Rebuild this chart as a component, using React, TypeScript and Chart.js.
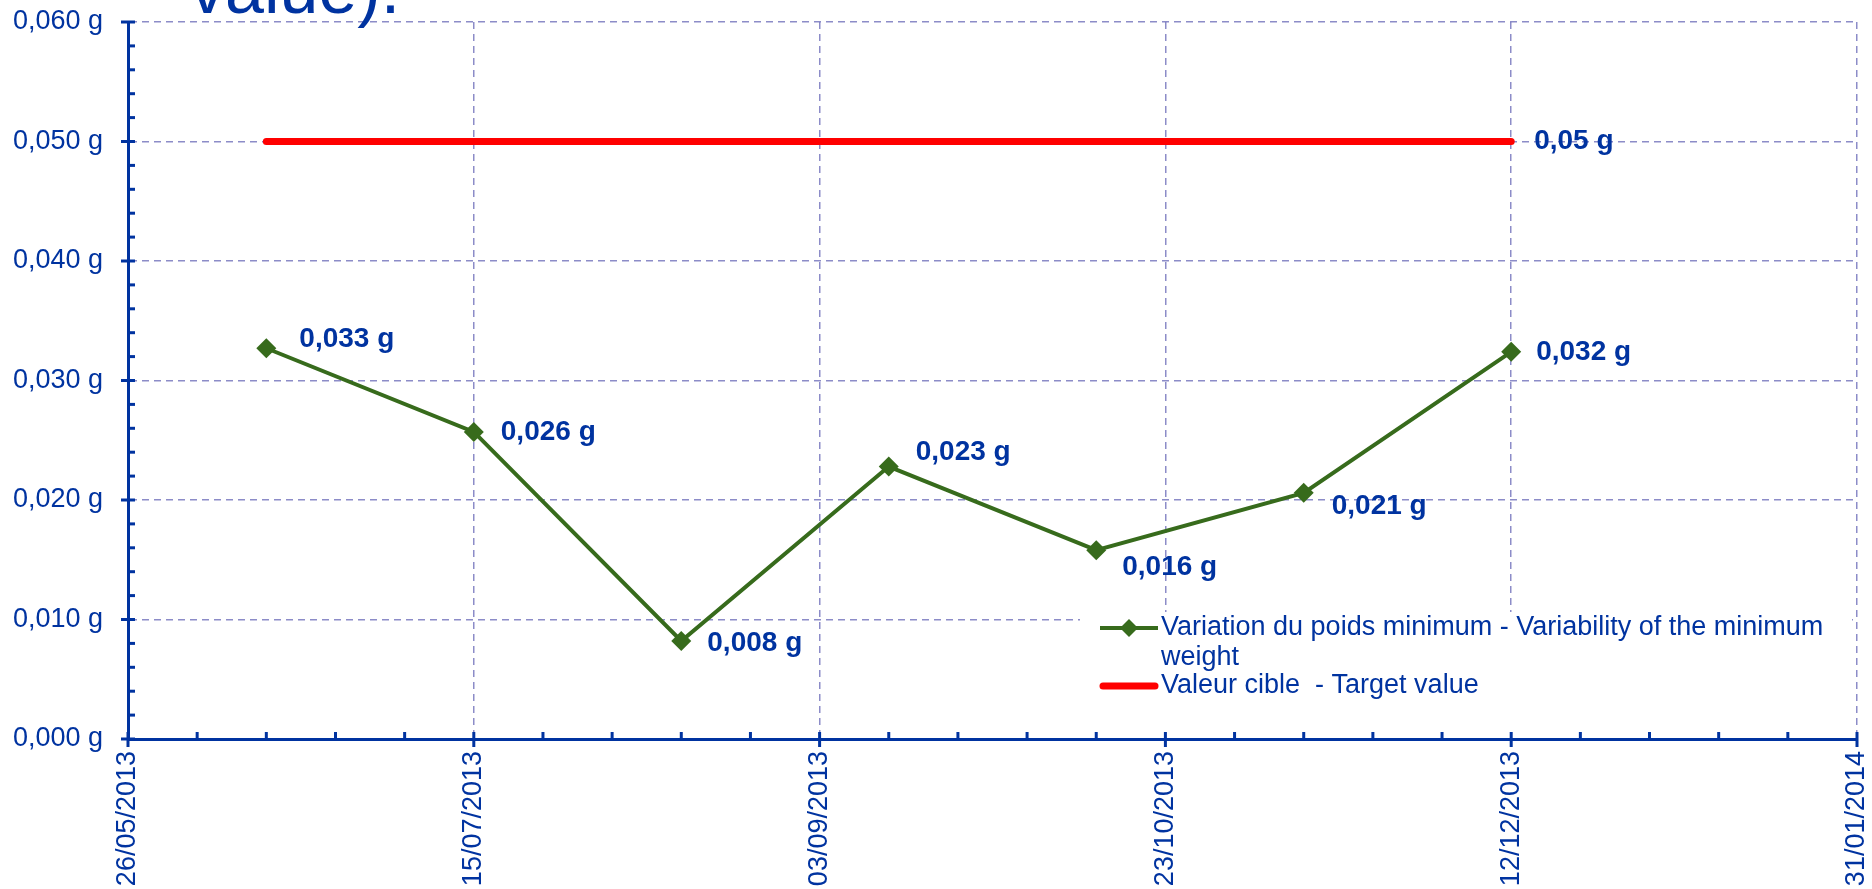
import React, { useEffect, useRef } from 'react';
import { Chart, registerables } from 'chart.js';

Chart.register(...registerables);

// ---- data ----
const measureDates = ['15/06/2013', '15/07/2013', '14/08/2013', '13/09/2013', '13/10/2013', '12/11/2013', '12/12/2013'];
const minWeightVariation = [0.0327, 0.0257, 0.0082, 0.0228, 0.0158, 0.0206, 0.0324];
const targetDates = ['15/06/2013', '12/12/2013'];
const targetValues = [0.05, 0.05];
const xAxisStart = '26/05/2013';
const xAxisEnd = '31/01/2014';
const xTickStepDays = 50;
const yMin = 0;
const yMax = 0.06;
const yStep = 0.01;
const seriesLabels = [
  'Variation du poids minimum - Variability of the minimum weight',
  'Valeur cible  - Target value',
];
const titleFragment = 'value).';

// ---- styles ----
const DAY = 86400000;
const BLUE = '#0033A0';
const GREEN = '#376B1C';
const RED = '#FF0000';
const GRID = 'rgba(120,120,190,0.85)';
const FONT = '"Liberation Sans", Arial, sans-serif';

const parseDate = (s: string) => {
  const [d, m, y] = s.split('/').map(Number);
  return Date.UTC(y, m - 1, d);
};
const pad = (n: number) => (n < 10 ? '0' + n : '' + n);
const fmtDate = (v: number) => {
  const d = new Date(v);
  return `${pad(d.getUTCDate())}/${pad(d.getUTCMonth() + 1)}/${d.getUTCFullYear()}`;
};
const fmtG = (v: number, digits: number) => v.toFixed(digits).replace('.', ',') + ' g';

const labelStyle: Record<number, { dx: number[]; dy: number[]; digits: number; show: (i: number, n: number) => boolean }> = {
  0: { dx: [33, 27, 26, 27, 26, 28, 25], dy: [-9, 0, 2, -14, 17, 13, 0], digits: 3, show: () => true },
  1: { dx: [23, 23], dy: [0, 0], digits: 2, show: (i, n) => i === n - 1 },
};

const decorPlugin = {
  id: 'decor',
  beforeDatasetsDraw(chart: any) {
    const { ctx, chartArea } = chart;
    // legend box
    const bx = chartArea.right - 777;
    const by = chartArea.top + 590;
    ctx.save();
    ctx.fillStyle = '#FFFFFF';
    ctx.fillRect(bx, by, 772, chartArea.bottom - 2 - by);
    // legend entries
    const lx0 = bx + 20;
    const lx1 = bx + 78;
    const tx = bx + 81;
    ctx.font = `27px ${FONT}`;
    ctx.fillStyle = BLUE;
    ctx.textBaseline = 'middle';
    ctx.textAlign = 'left';
    let yy = by + 16;
    chart.data.datasets.forEach((ds: any, di: number) => {
      ctx.save();
      ctx.strokeStyle = ds.borderColor;
      ctx.lineWidth = ds.borderWidth;
      ctx.lineCap = di === 1 ? 'round' : 'butt';
      ctx.beginPath();
      ctx.moveTo(lx0 + (di === 1 ? 3 : 0), yy);
      ctx.lineTo(lx1 - (di === 1 ? 3 : 0), yy);
      ctx.stroke();
      if (ds.pointRadius > 0) {
        const cx = (lx0 + lx1) / 2;
        const r = 9;
        ctx.fillStyle = ds.borderColor;
        ctx.beginPath();
        ctx.moveTo(cx - r, yy);
        ctx.lineTo(cx, yy - r);
        ctx.lineTo(cx + r, yy);
        ctx.lineTo(cx, yy + r);
        ctx.closePath();
        ctx.fill();
      }
      ctx.restore();
      const words = String(ds.label).split(' ');
      const lines: string[] = [];
      let cur = '';
      words.forEach((w: string) => {
        const test = cur === '' ? w : cur + ' ' + w;
        if (ctx.measureText(test).width > 700 && cur !== '') {
          lines.push(cur);
          cur = w;
        } else cur = test;
      });
      lines.push(cur);
      lines.forEach((ln, k) => {
        ctx.fillText(ln, tx, yy + k * 30);
      });
      yy += lines.length * 29;
    });
    ctx.restore();

    // axis ticks
    const xs = chart.scales.x;
    const ys = chart.scales.y;
    const ax = chartArea.left;
    const ay = chartArea.bottom;
    ctx.save();
    ctx.strokeStyle = BLUE;
    ctx.lineWidth = 3;
    const yt = ys.ticks.map((t: any) => t.value);
    yt.forEach((v: number, i: number) => {
      const p = ys.getPixelForValue(v);
      ctx.beginPath();
      ctx.moveTo(ax - 7, p);
      ctx.lineTo(ax + 7, p);
      ctx.stroke();
      if (i < yt.length - 1) {
        const step = (yt[i + 1] - v) / 5;
        for (let k = 1; k < 5; k++) {
          const q = ys.getPixelForValue(v + k * step);
          ctx.beginPath();
          ctx.moveTo(ax, q);
          ctx.lineTo(ax + 7, q);
          ctx.stroke();
        }
      }
    });
    const xt = xs.ticks.map((t: any) => t.value);
    xt.forEach((v: number, i: number) => {
      const p = xs.getPixelForValue(v);
      ctx.beginPath();
      ctx.moveTo(p, ay - 7);
      ctx.lineTo(p, ay + 8);
      ctx.stroke();
      if (i < xt.length - 1) {
        const step = (xt[i + 1] - v) / 5;
        for (let k = 1; k < 5; k++) {
          const q = xs.getPixelForValue(v + k * step);
          ctx.beginPath();
          ctx.moveTo(q, ay - 7);
          ctx.lineTo(q, ay);
          ctx.stroke();
        }
      }
    });
    ctx.restore();
  },
  afterDatasetsDraw(chart: any) {
    const { ctx } = chart;
    ctx.save();
    ctx.font = `bold 28px ${FONT}`;
    ctx.fillStyle = BLUE;
    ctx.textAlign = 'left';
    ctx.textBaseline = 'middle';
    chart.data.datasets.forEach((ds: any, di: number) => {
      const st = labelStyle[di];
      if (!st) return;
      const meta = chart.getDatasetMeta(di);
      const n = meta.data.length;
      meta.data.forEach((el: any, i: number) => {
        if (!st.show(i, n)) return;
        const v = ds.data[i].y;
        ctx.fillText(fmtG(v, st.digits), el.x + st.dx[i], el.y + st.dy[i]);
      });
    });
    ctx.font = `70px ${FONT}`;
    ctx.textBaseline = 'alphabetic';
    ctx.fillText(titleFragment, 190, 12.5);
    ctx.restore();
  },
};

export default function App() {
  const ref = useRef<HTMLCanvasElement | null>(null);

  useEffect(() => {
    if (!ref.current) return;
    const chart = new Chart(ref.current, {
      type: 'line',
      data: {
        datasets: [
          {
            label: seriesLabels[0],
            data: measureDates.map((d, i) => ({ x: parseDate(d), y: minWeightVariation[i] })),
            borderColor: GREEN,
            backgroundColor: GREEN,
            borderWidth: 4,
            pointStyle: 'rectRot',
            pointRadius: 10,
            pointHoverRadius: 10,
            pointBackgroundColor: GREEN,
            pointBorderColor: GREEN,
            pointBorderWidth: 0,
            tension: 0,
          } as any,
          {
            label: seriesLabels[1],
            data: targetDates.map((d, i) => ({ x: parseDate(d), y: targetValues[i] })),
            borderColor: RED,
            backgroundColor: RED,
            borderWidth: 7,
            borderCapStyle: 'round',
            pointRadius: 0,
            pointHoverRadius: 0,
            tension: 0,
          } as any,
        ],
      },
      options: {
        animation: false,
        responsive: false,
        devicePixelRatio: 1,
        events: [],
        layout: { padding: { top: 22, right: 15, left: 0, bottom: 0 } },
        plugins: {
          legend: { display: false },
          tooltip: { enabled: false },
          title: { display: false },
        },
        scales: {
          x: {
            type: 'linear',
            min: parseDate(xAxisStart),
            max: parseDate(xAxisEnd),
            afterFit: (s: any) => {
              s.height = 150;
              s.paddingLeft = 0;
              s.paddingRight = 0;
            },
            ticks: {
              stepSize: xTickStepDays * DAY,
              autoSkip: false,
              maxRotation: 90,
              minRotation: 90,
              padding: 12,
              color: BLUE,
              font: { family: FONT, size: 27 },
              callback: (v: any) => fmtDate(Number(v)),
            },
            grid: {
              color: GRID,
              lineWidth: 1.5,
              drawTicks: false,
            },
            border: { display: true, color: BLUE, width: 3, dash: [7, 5] },
          },
          y: {
            type: 'linear',
            min: yMin,
            max: yMax,
            afterFit: (s: any) => {
              s.width = 128;
              s.paddingTop = 0;
              s.paddingBottom = 0;
            },
            ticks: {
              stepSize: yStep,
              padding: 25,
              color: BLUE,
              font: { family: FONT, size: 27 },
              callback: (v: any) => fmtG(Number(v), 3),
            },
            grid: {
              color: GRID,
              lineWidth: 1.5,
              drawTicks: false,
            },
            border: { display: true, color: BLUE, width: 3, dash: [7, 5] },
          },
        },
      } as any,
      plugins: [decorPlugin],
    });
    return () => chart.destroy();
  }, []);

  return (
    <div style={{ position: 'absolute', left: 0, top: 0, width: 1872, height: 889, background: '#fff' }}>
      <canvas ref={ref} width={1872} height={889} style={{ display: 'block', width: 1872, height: 889 }} />
    </div>
  );
}
